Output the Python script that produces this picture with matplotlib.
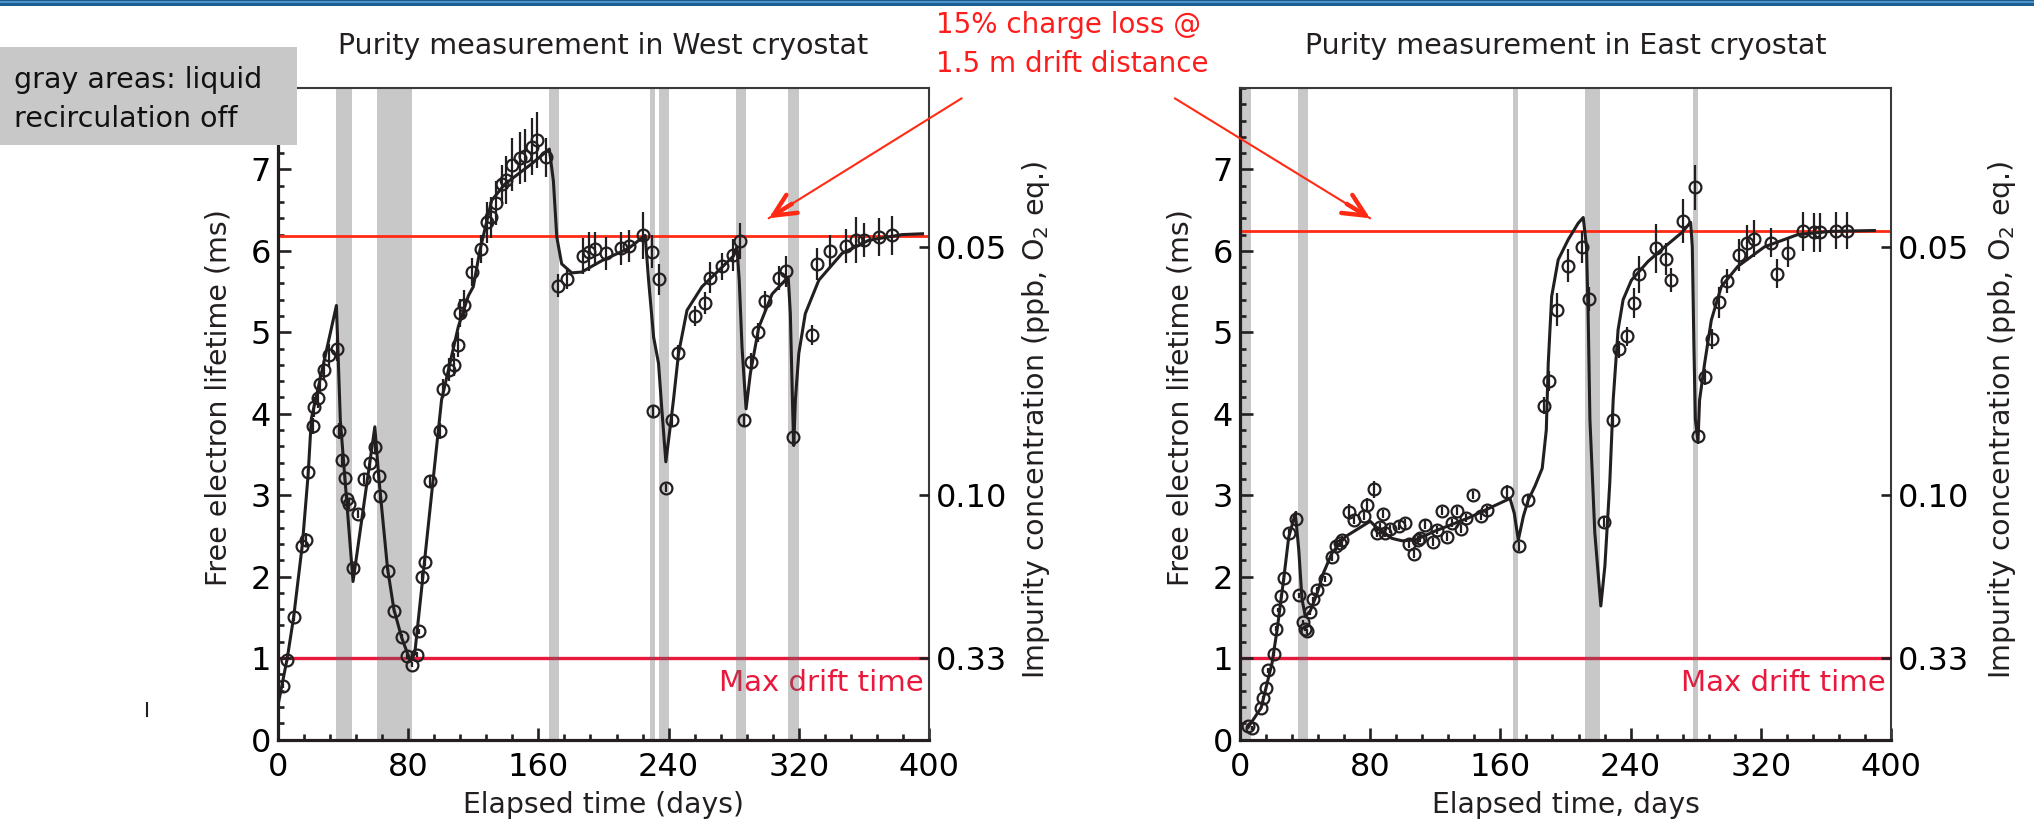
import matplotlib
matplotlib.use("Agg")
import matplotlib.pyplot as plt
from matplotlib.patches import Rectangle
from matplotlib.lines import Line2D
from matplotlib.ticker import MultipleLocator

plt.rcParams['font.family'] = ['DejaVu Sans']

# ---- West cryostat: measured lifetime (days, ms, error) ----
west_day = [3.1, 5.7, 9.6, 15.0, 17.0, 18.5, 21.3, 21.9, 24.8, 26.0, 28.2, 31.1, 36.5,
            37.5, 39.6, 41.4, 42.6, 43.7, 46.1, 49.2, 52.7, 56.8, 59.9, 61.9, 62.9,
            67.3, 71.2, 76.1, 79.4, 82.5, 85.5, 86.8, 88.6, 90.5, 93.3, 99.5, 101.5,
            105.0, 108.3, 110.3, 112.0, 114.5, 119.0, 124.7, 128.2, 130.8, 133.9, 137.4,
            140.0, 144.0, 148.7, 151.8, 155.9, 159.0, 164.5, 172.3, 177.4, 187.3, 191.1,
            194.8, 201.8, 210.8, 215.8, 224.2, 229.7, 233.8, 230.7, 238.3, 242.0, 245.7,
            256.0, 262.5, 265.2, 272.8, 279.6, 284.1, 286.2, 290.7, 294.8, 299.5, 307.7,
            312.4, 316.6, 328.2, 331.3, 339.0, 348.7, 355.3, 360.0, 369.2, 377.4]
west_tau = [0.66, 0.98, 1.50, 2.37, 2.45, 3.28, 3.85, 4.08, 4.19, 4.37, 4.54, 4.72, 4.79,
            3.79, 3.43, 3.21, 2.95, 2.89, 2.11, 2.77, 3.20, 3.40, 3.59, 3.23, 2.99,
            2.07, 1.58, 1.26, 1.02, 0.92, 1.04, 1.33, 2.00, 2.18, 3.17, 3.79, 4.31,
            4.54, 4.60, 4.85, 5.24, 5.34, 5.74, 6.02, 6.35, 6.41, 6.59, 6.82,
            6.87, 7.06, 7.14, 7.17, 7.28, 7.36, 7.15, 5.57, 5.65, 5.94, 5.99,
            6.02, 5.97, 6.03, 6.06, 6.19, 5.99, 5.65, 4.03, 3.09, 3.92, 4.74,
            5.20, 5.36, 5.67, 5.81, 5.95, 6.12, 3.92, 4.64, 5.00, 5.38, 5.67,
            5.75, 3.71, 4.97, 5.84, 6.00, 6.06, 6.13, 6.13, 6.17, 6.19]
west_err = [0.03, 0.03, 0.04, 0.06, 0.08, 0.08, 0.10, 0.12, 0.12, 0.12, 0.12, 0.14, 0.14,
            0.10, 0.08, 0.08, 0.06, 0.06, 0.05, 0.05, 0.06, 0.07, 0.08, 0.07, 0.06,
            0.04, 0.03, 0.03, 0.03, 0.03, 0.03, 0.03, 0.04, 0.05, 0.07, 0.10, 0.12,
            0.14, 0.14, 0.15, 0.17, 0.18, 0.17, 0.17, 0.25, 0.25, 0.27, 0.24,
            0.30, 0.32, 0.32, 0.33, 0.35, 0.34, 0.24, 0.14, 0.12, 0.22, 0.24,
            0.21, 0.20, 0.20, 0.20, 0.29, 0.20, 0.19, 0.08, 0.05, 0.08, 0.10,
            0.12, 0.13, 0.19, 0.17, 0.20, 0.22, 0.07, 0.10, 0.12, 0.13, 0.15,
            0.19, 0.10, 0.12, 0.20, 0.20, 0.21, 0.28, 0.21, 0.23, 0.24]

# model curve, West
west_fit_day = [0, 5.7, 9.6, 15, 18.5, 20.5, 35.9, 38.3, 46.1, 59.5, 62, 67.3, 71.2, 76,
                81, 84, 100.5, 110.8, 117, 120, 124, 131.3, 139.4, 155.9, 166.7, 169.2,
                171.3, 174.3, 180.5, 186.6, 199, 215.4, 225.6, 227.7, 230.8, 233.8, 235.9,
                238.3, 241, 243, 246.1, 251.3, 260.5, 270.8, 280, 282, 283.4, 285.1,
                287.6, 290.2, 295.4, 303.6, 313.5, 314.8, 316.3, 316.9, 317.9, 320, 324,
                332.3, 346.6, 363, 383.5, 396]
west_fit_tau = [0.42, 1.0, 1.5, 2.4, 3.25, 3.94, 5.33, 3.92, 1.94, 3.84, 3.2, 2.1, 1.6, 1.25,
                0.98, 1.05, 4.17, 5.07, 5.45, 5.56, 6.0, 6.62, 6.82, 7.07, 7.25, 6.86,
                6.17, 5.84, 5.73, 5.74, 5.88, 6.03, 6.19, 5.64, 4.94, 4.62, 4.04,
                3.41, 3.84, 4.17, 4.74, 5.27, 5.56, 5.76, 5.94, 6.05, 5.64, 4.82,
                4.06, 4.49, 5.06, 5.47, 5.68, 5.23, 4.0, 3.61, 4.17, 4.74, 5.23,
                5.64, 5.97, 6.13, 6.2, 6.21]

west_off = [(35.5, 45.5), (60.9, 82.5), (166.5, 172.7), (228.7, 231.8), (233.8, 240.0),
            (281.4, 287.6), (313.4, 320.0)]

# ---- East cryostat ----
east_day = [5.2, 7.1, 13, 14, 16.1, 17.1, 20.8, 22.2, 23.2, 25.3, 26.9, 29.9, 34.5, 36.5,
            38.7, 40.2, 41.2, 43.2, 44.9, 47.3, 52, 56.5, 59.2, 61.6, 62.7, 67.2, 69.8,
            75.9, 78, 82.1, 84.1, 86.2, 87.8, 89.2, 92.3, 97.8, 101.1, 104.1, 107.2,
            109.3, 110.7, 113.4, 118.3, 121.3, 124, 127.1, 130.1, 133.2, 135.8, 138.9,
            143, 148.1, 151.6, 163.9, 171.6, 177.1, 186.9, 190, 194.5, 201.3, 209.9,
            214.5, 223.7, 229.3, 232.8, 237.7, 242, 245.2, 255.3, 262, 265.1, 272,
            279.4, 281.4, 285.7, 290, 294.3, 299.2, 306.4, 311.7, 315.7, 326.4, 329.7,
            337, 345.8, 352.5, 356.6, 366.3, 373]
east_tau = [0.16, 0.14, 0.39, 0.51, 0.63, 0.85, 1.05, 1.36, 1.59, 1.76, 1.98, 2.53, 2.71, 1.77,
            1.44, 1.36, 1.33, 1.56, 1.72, 1.84, 1.97, 2.24, 2.37, 2.41, 2.45, 2.79, 2.70,
            2.75, 2.88, 3.07, 2.54, 2.61, 2.77, 2.54, 2.58, 2.62, 2.66, 2.40, 2.28,
            2.45, 2.48, 2.64, 2.43, 2.57, 2.81, 2.49, 2.66, 2.81, 2.58, 2.72,
            3.00, 2.74, 2.82, 3.04, 2.37, 2.94, 4.10, 4.40, 5.28, 5.82, 6.05,
            5.41, 2.67, 3.92, 4.79, 4.95, 5.36, 5.71, 6.03, 5.90, 5.64, 6.37,
            6.78, 3.73, 4.45, 4.92, 5.37, 5.63, 5.95, 6.10, 6.15, 6.10, 5.72,
            5.98, 6.24, 6.23, 6.23, 6.25, 6.25]
east_err = [0.02, 0.02, 0.02, 0.02, 0.02, 0.03, 0.03, 0.03, 0.03, 0.03, 0.04, 0.05, 0.10, 0.03,
            0.03, 0.03, 0.03, 0.03, 0.03, 0.03, 0.04, 0.05, 0.05, 0.05, 0.05, 0.10, 0.05,
            0.05, 0.08, 0.10, 0.05, 0.05, 0.05, 0.05, 0.05, 0.05, 0.05, 0.05, 0.05,
            0.05, 0.05, 0.05, 0.05, 0.05, 0.05, 0.05, 0.05, 0.05, 0.05, 0.05,
            0.05, 0.05, 0.05, 0.08, 0.05, 0.06, 0.10, 0.12, 0.20, 0.20, 0.20,
            0.15, 0.06, 0.08, 0.10, 0.12, 0.19, 0.23, 0.30, 0.20, 0.15, 0.27,
            0.28, 0.10, 0.10, 0.12, 0.19, 0.15, 0.20, 0.22, 0.23, 0.18, 0.18,
            0.18, 0.24, 0.24, 0.24, 0.23, 0.23]

east_fit_day = [5, 13, 19.7, 22.9, 26.9, 29.9, 34, 36.1, 38.1, 40.2, 43.2, 47.3, 51.4, 56.5,
                64.7, 80, 85.1, 93.3, 99.5, 107.6, 119.9, 140.3, 165.9, 168.5, 171, 174.1,
                177.1, 181.2, 185.7, 188.2, 189.4, 191.5, 195.5, 201.7, 207.8, 210.9,
                212.9, 213.9, 215, 218, 221.7, 224.2, 227.2, 229.3, 232.3, 235.4, 240.5,
                250.7, 261, 271.2, 276.9, 277.9, 278.9, 279.8, 281.4, 282.4, 285.5,
                289.6, 295.7, 305.9, 322.3, 342.7, 363.2, 389.8]
east_fit_tau = [0.15, 0.39, 0.94, 1.36, 1.98, 2.48, 2.78, 2.33, 1.72, 1.51, 1.58, 1.79, 2.05, 2.29,
                2.49, 2.68, 2.58, 2.47, 2.44, 2.45, 2.56, 2.72, 2.96, 2.78, 2.45, 2.74,
                2.94, 3.11, 3.33, 3.8, 4.62, 5.44, 5.89, 6.14, 6.34, 6.41,
                6.05, 5.24, 3.93, 2.54, 1.64, 2.13, 3.15, 4.17, 5.03, 5.40, 5.64,
                5.87, 6.05, 6.22, 6.35, 6.05, 4.83, 3.93, 3.66, 4.17, 4.62,
                5.15, 5.56, 5.81, 6.05, 6.20, 6.24, 6.25]

east_off = [(0, 7.0), (35.4, 41.8), (167.5, 170.6), (211.9, 221.1), (278.3, 281.2)]

# reference levels
loss15_west = 6.18
loss15_east = 6.24
max_drift = 1.0
conc_pos = [1, 3, 6.05]
conc_lab = ['0.33', '0.10', '0.05']

RED_LINE = '#ff2a14'
CRIMSON = '#e8193c'
INK = '#231f20'

W, H = 2034, 827
fig = plt.figure(figsize=(W / 100, H / 100), dpi=100)


def panel(left_px, days, tau, err, fdays, ftau, off, loss15, title, xlabel):
    ax = fig.add_axes([left_px / W, (H - 739.5) / H, 651 / W, 651.5 / H])
    ax.set_xlim(0, 400)
    ax.set_ylim(0, 8)

    # gray bands: recirculation off
    for a, b in off:
        ax.axvspan(a, b, color='#626466', alpha=0.35, lw=0, zorder=1.5)

    ax.axhline(max_drift, color=CRIMSON, lw=2.4, zorder=1)
    ax.axhline(loss15, color=RED_LINE, lw=2.0, zorder=2.2)
    ax.text(397, 0.59, 'Max drift time', color=CRIMSON, fontsize=21,
            ha='right', va='baseline', zorder=1)

    ax.plot(fdays, ftau, color=INK, lw=2.2, zorder=3)
    ax.errorbar(days, tau, yerr=err, fmt='o', ms=8.5, mfc='none', mec=INK, mew=1.6,
                ecolor=INK, elinewidth=1.6, capsize=0, zorder=4)

    ax.set_xticks(range(0, 401, 80))
    ax.xaxis.set_minor_locator(MultipleLocator(16))
    ax.set_yticks(range(0, 8))
    ax.yaxis.set_minor_locator(MultipleLocator(0.2))
    ax.tick_params(which='both', direction='in', width=1.9, color=INK,
                   top=False, right=False)
    ax.tick_params(which='major', length=9, labelsize=23)
    ax.tick_params(which='minor', length=4.3)
    ax.tick_params(axis='x', pad=9)
    ax.tick_params(axis='y', pad=5)
    ax.spines['left'].set_linewidth(2.3)
    ax.spines['bottom'].set_linewidth(2.3)
    ax.spines['left'].set_color(INK)
    ax.spines['bottom'].set_color(INK)
    for s in ('top', 'right'):
        ax.spines[s].set_linewidth(1.5)
        ax.spines[s].set_color('#3a3a3a')

    ax2 = ax.twinx()
    ax2.set_ylim(0, 8)
    ax2.set_yticks(conc_pos)
    ax2.set_yticklabels(conc_lab)
    ax2.tick_params(direction='in', length=7, width=1.9, color=INK, labelsize=23, pad=5)
    for s in ax2.spines.values():
        s.set_visible(False)

    ax.text(0.5, 1 + 34.5 / 651.5, title, transform=ax.transAxes, ha='center',
            va='baseline', fontsize=20.5, color=INK)
    ax.text(0.5, -73.5 / 651.5, xlabel, transform=ax.transAxes, ha='center',
            va='baseline', fontsize=20.3, color=INK)
    return ax


axw = panel(278, west_day, west_tau, west_err, west_fit_day, west_fit_tau, west_off,
            loss15_west, 'Purity measurement in West cryostat', 'Elapsed time (days)')
axe = panel(1240, east_day, east_tau, east_err, east_fit_day, east_fit_tau, east_off,
            loss15_east, 'Purity measurement in East cryostat', 'Elapsed time, days')

# axis titles
ylab = 'Free electron lifetime (ms)'
clab = 'Impurity concentration (ppb, O$_2$ eq.)'
for x, txt in [(218, ylab), (1036, clab), (1181, ylab), (2002, clab)]:
    yc = 398 if txt == ylab else 420
    fig.text(x / W, 1 - yc / H, txt, rotation=90, ha='center', va='center',
             fontsize=20.5, color=INK)

# note box
fig.patches.append(Rectangle((0, 1 - 145 / H), 297 / W, 98 / H, transform=fig.transFigure,
                             facecolor='#c8c8c8', edgecolor='none', zorder=5))
fig.text(14 / W, 1 - 88 / H, 'gray areas: liquid', fontsize=20.5, color='#111111',
         va='baseline', zorder=6)
fig.text(14 / W, 1 - 127 / H, 'recirculation off', fontsize=20.5, color='#111111',
         va='baseline', zorder=6)

# charge loss note with arrows to both 15% lines
fig.text(936 / W, 1 - 33 / H, '15% charge loss @', fontsize=20, color='#fd1d1d',
         va='baseline')
fig.text(936 / W, 1 - 72 / H, '1.5 m drift distance', fontsize=20, color='#fd1d1d',
         va='baseline')

for ax, tip, tail in [(axw, (301.5, 6.40), (961.7, H - 98.3)),
                      (axe, (80.0, 6.40), (1174.8, H - 98.3))]:
    tx, ty = ax.transData.transform(tip)
    ax.annotate('', xy=(tx, ty), xycoords='figure pixels', xytext=tail,
                textcoords='figure pixels',
                arrowprops=dict(arrowstyle='-', color=RED_LINE, lw=1.5,
                                shrinkA=0, shrinkB=0), annotation_clip=False)
    bx = tx + 0.12 * (tail[0] - tx)
    by = ty + 0.12 * (tail[1] - ty)
    ax.annotate('', xy=(tx, ty), xycoords='figure pixels', xytext=(bx, by),
                textcoords='figure pixels',
                arrowprops=dict(arrowstyle='->,head_length=0.8,head_width=0.38',
                                color=RED_LINE, lw=3.2, mutation_scale=20,
                                shrinkA=0, shrinkB=0), annotation_clip=False)

# header bar
fig.patches.append(Rectangle((0, 1 - 6 / H), 1, 6 / H, transform=fig.transFigure,
                             facecolor='#1b5e8f', edgecolor='none'))
fig.patches.append(Rectangle((0, 1 - 3 / H), 1, 1.5 / H, transform=fig.transFigure,
                             facecolor='#4b93cc', edgecolor='none'))

# stray mark near the left axis
fig.lines.append(Line2D([146.5 / W, 146.5 / W], [1 - 716 / H, 1 - 703 / H],
                        transform=fig.transFigure, color=INK, lw=1.5))

fig.savefig('out.png', dpi=100)
